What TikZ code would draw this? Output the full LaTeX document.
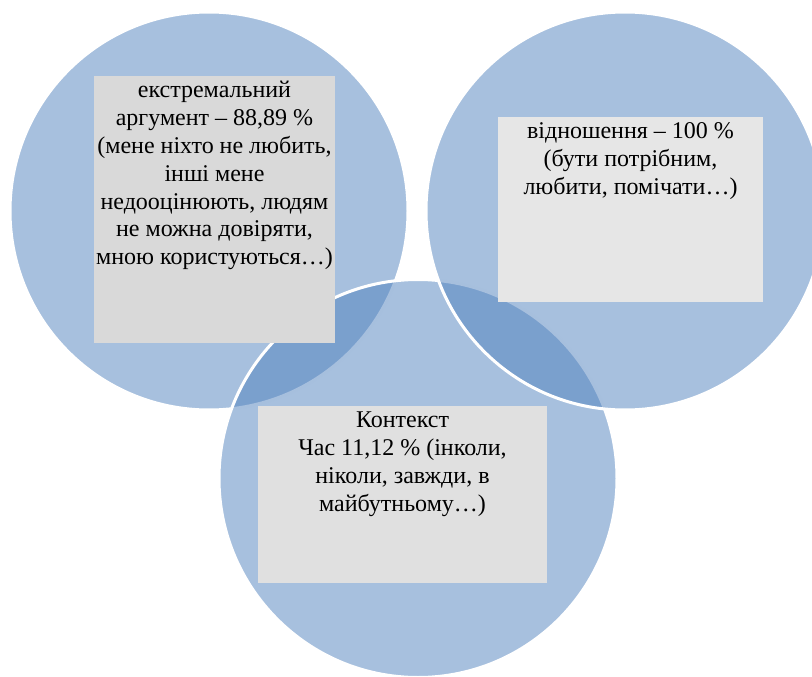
\documentclass[tikz,border=0pt]{standalone}
\usepackage{fontspec}
\setmainfont{Liberation Serif}
\usetikzlibrary{positioning}
\definecolor{vennblue}{HTML}{4F81BD}
\definecolor{boxgraya}{HTML}{D9D9D9}
\definecolor{boxgrayb}{HTML}{E6E6E6}
\definecolor{boxgrayc}{HTML}{E0E0E0}
\tikzset{
   venn node/.style={circle,draw=white,line width=3pt,fill=vennblue,fill opacity=.5,
                     minimum size=398pt,inner sep=0pt},
   label box/.style={rectangle,inner sep=0pt},
   label text/.style={inner sep=0pt,align=center,font=\fontsize{24}{27.8}\selectfont}
}

\begin{document}
\begin{tikzpicture}[x=1pt,y=-1pt]
\useasboundingbox (0,0) rectangle (812,677);
% circles
\node[venn node] (extreme) at (209,211) {};
\node[venn node] (context) at (418,478.5) {};
\node[venn node] (relation) at (625,211) {};
% boxes
\node[label box,fill=boxgraya,minimum width=241pt,minimum height=267pt] (extremebox) at (214.5,209.5) {};
\node[label box,fill=boxgrayb,minimum width=265pt,minimum height=185pt] (relationbox) at (630.5,209.5) {};
\node[label box,fill=boxgrayc,minimum width=289pt,minimum height=177pt] (contextbox) at (402.5,494.5) {};
%
\node[label text,below=2.5pt of extremebox.north] (extremetext)
  {\strut екстремальний\\аргумент – 88,89 \%\\(мене ніхто не любить,\\інші мене\\недооцінюють, людям\\не можна довіряти,\\мною користуються…)};
\node[label text,below=2.5pt of relationbox.north] (relationtext)
  {\strut відношення – 100 \%\\(бути потрібним,\\любити, помічати…)};
\node[label text,below=2.5pt of contextbox.north] (contexttext)
  {\strut Контекст\\Час 11,12 \% (інколи,\\ніколи, завжди, в\\майбутньому…)};
\end{tikzpicture}
\end{document}
